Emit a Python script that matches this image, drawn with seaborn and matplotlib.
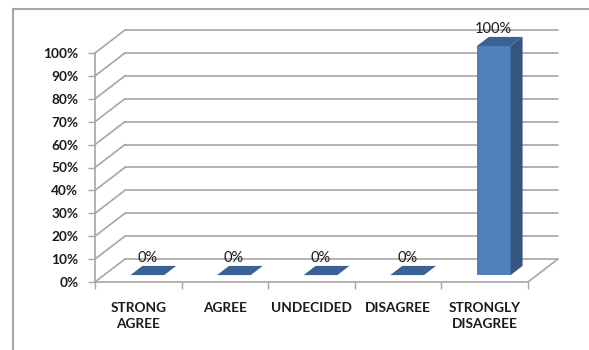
import matplotlib
matplotlib.use("Agg")
import matplotlib.pyplot as plt
from matplotlib.patches import Polygon
from matplotlib.lines import Line2D
import seaborn as sns
import pandas as pd

categories = ["STRONG\nAGREE", "AGREE", "UNDECIDED", "DISAGREE", "STRONGLY\nDISAGREE"]
values = [0, 0, 0, 0, 100]
y_ticks = [0, 10, 20, 30, 40, 50, 60, 70, 80, 90, 100]

FRONT = "#4F81BD"
SIDE = "#36557E"
TOP = "#3B6294"
GRID = "#A6A6A6"
TEXT = "#1A1A1A"

sns.set_style("white")
plt.rcParams["font.family"] = ["Lato", "DejaVu Sans"]

W, H, DPI = 589, 350, 100
fig = plt.figure(figsize=(W / DPI, H / DPI), dpi=DPI)

# front plane of the 3D box, in pixels
L, R, B, T = 95, 528, 282, 53
ax = fig.add_axes([L / W, 1 - B / H, (R - L) / W, (B - T) / H])

df = pd.DataFrame({"category": categories, "value": values})
BAR_W = 0.39
sns.barplot(data=df, x="category", y="value", color=FRONT, width=BAR_W,
            saturation=1, ax=ax, errorbar=None)

ax.set_xlim(-0.5, len(categories) - 0.5)
ax.set_ylim(0, 100)

# depth of the box (pixels) converted to data units
DEPTH_PX_X, DEPTH_PX_Y = 30, 23
ux = (len(categories)) / (R - L)
uy = 100 / (B - T)
dx, dy = DEPTH_PX_X * ux, DEPTH_PX_Y * uy

x0, x1 = -0.5, len(categories) - 0.5
# back wall gridlines and side-wall diagonals
for v in y_ticks:
    ax.add_line(Line2D([x0 + dx, x1 + dx], [v + dy, v + dy], color=GRID,
                       lw=1.2, clip_on=False, zorder=0))
    ax.add_line(Line2D([x0, x0 + dx], [v, v + dy], color=GRID,
                       lw=1.2, clip_on=False, zorder=0))
# right edge of the floor
ax.add_line(Line2D([x1, x1 + dx], [0, dy], color=GRID, lw=1.2,
                   clip_on=False, zorder=0))

# bars sit between 30% and 70% of the box depth
f0, f1 = 0.3, 0.4
for patch, v in zip(ax.patches, values):
    bx = patch.get_x() + f0 * dx
    by = f0 * dy
    bw = patch.get_width()
    patch.set_x(bx)
    patch.set_y(by)
    patch.set_height(v)
    patch.set_clip_on(False)
    patch.set_edgecolor("none")
    patch.set_zorder(3)
    top = v + by
    ax.add_patch(Polygon([(bx, top), (bx + bw, top), (bx + bw + f1 * dx, top + f1 * dy),
                          (bx + f1 * dx, top + f1 * dy)], closed=True,
                         facecolor=TOP, edgecolor="none", clip_on=False, zorder=4))
    if v > 0:
        ax.add_patch(Polygon([(bx + bw, by), (bx + bw + f1 * dx, by + f1 * dy),
                              (bx + bw + f1 * dx, top + f1 * dy), (bx + bw, top)],
                             closed=True, facecolor=SIDE, edgecolor="none",
                             clip_on=False, zorder=4))
    ax.annotate(f"{v}%", xy=(bx + bw / 2, top + f1 * dy), xytext=(0, 0.5),
                textcoords="offset points", ha="center", va="bottom",
                fontsize=10.5, color=TEXT, zorder=5, annotation_clip=False)

# axes styling
for side in ["top", "right"]:
    ax.spines[side].set_visible(False)
for side in ["left", "bottom"]:
    ax.spines[side].set_color(GRID)
    ax.spines[side].set_linewidth(1.2)

ax.set_yticks(y_ticks)
ax.set_yticklabels([f"{v}%" for v in y_ticks])
ax.tick_params(axis="y", length=5, width=1, color=GRID, pad=7,
               labelsize=9.8, labelcolor=TEXT, direction="out", left=True)
ax.set_xticks(range(len(categories)))
ax.set_xticklabels(categories, linespacing=1.4)
ax.set_xticks([i - 0.5 for i in range(len(categories) + 1)], minor=True)
ax.tick_params(axis="x", which="major", length=0, pad=14.5, labelsize=9.8,
               labelcolor=TEXT)
ax.tick_params(axis="x", which="minor", length=5, width=1, color=GRID,
               direction="out", bottom=True)
for lbl in ax.get_xticklabels() + ax.get_yticklabels():
    lbl.set_fontweight("bold")
ax.set_xlabel("")
ax.set_ylabel("")
ax.grid(False)

# chart border (left and top edges)
fig.add_artist(Line2D([13 / W, 13 / W], [0, 1 - 9 / H], transform=fig.transFigure,
                      color="#A6A6A6", lw=1.5))
fig.add_artist(Line2D([13 / W, 1], [1 - 9 / H, 1 - 9 / H], transform=fig.transFigure,
                      color="#A6A6A6", lw=1.5))

fig.savefig("out.png", dpi=DPI, facecolor="white")
